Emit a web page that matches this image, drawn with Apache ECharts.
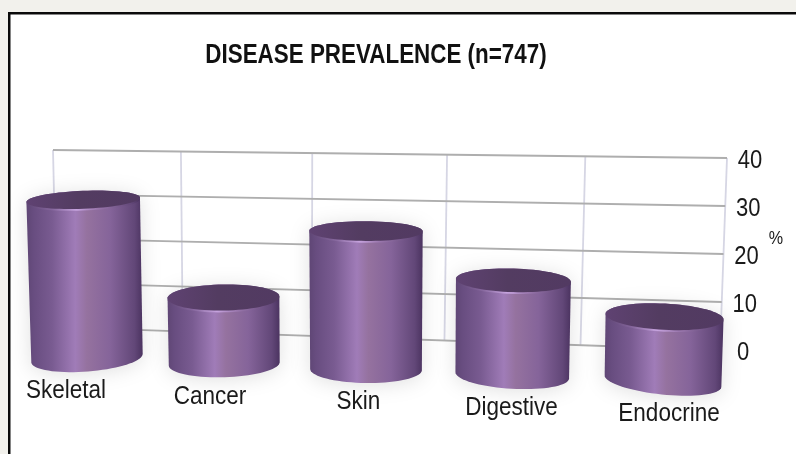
<!DOCTYPE html>
<html>
<head>
<meta charset="utf-8">
<style>
html,body{margin:0;padding:0;background:#f2f1ec;}
#c{width:796px;height:454px;filter:blur(0.4px);}
</style>
<script src="https://cdn.jsdelivr.net/npm/echarts@6/dist/echarts.min.js"></script>
</head>
<body>
<div id="c"></div>
<script>
var titleText = 'DISEASE PREVALENCE (n=747)';
var categories = ['Skeletal','Cancer','Skin','Digestive','Endocrine'];
var prevalence = [32, 13.4, 28, 19.2, 13];
var yTicks = [0,10,20,30,40];
var unitName = '%';
var FONT = '"Liberation Sans", Arial, sans-serif';
var TEXT_SX = 0.9;

var chart = echarts.init(document.getElementById('c'));
var LG = echarts.graphic.LinearGradient;

/* back wall perspective: grid coordinates -> picture */
function wall(px, py, cs, v){
  var t = (px - cs.x)/cs.width, s = v/40;
  var x = cs.x + cs.width*(0.935*t + 0.065*t*t) + s*(-4 + 11*t);
  var y = py - (1-t)*(8 + 14.8*(1-s));
  return [x,y];
}
function ell(cx,cy,rx,ry,rot,a){
  var r = rot*Math.PI/180, c=Math.cos(a)*rx, d=Math.sin(a)*ry;
  return [cx + c*Math.cos(r) - d*Math.sin(r), cy + c*Math.sin(r) + d*Math.cos(r)];
}
function ellipsePts(cx,cy,rx,ry,rot){
  var p=[]; for(var i=0;i<72;i++){p.push(ell(cx,cy,rx,ry,rot,i/72*2*Math.PI));} return p;
}

function renderH(params, api){
  var cs = params.coordSys, v = api.value(0);
  var py = api.coord([0,v])[1];
  var a = wall(cs.x, py, cs, v), b = wall(cs.x+cs.width, py, cs, v);
  return {type:'group',children:[
    {type:'line',shape:{x1:a[0],y1:a[1],x2:b[0],y2:b[1]},
     style:{stroke:'#aeaeae',lineWidth:1.8}},
    {type:'text',x:b[0]+23,y:b[1]+3,scaleX:0.88,
     style:{text:String(v),x:0,y:0,align:'center',verticalAlign:'middle',
            font:'25px '+FONT,fill:'#1a1a1a'}}
  ]};
}
function renderV(params, api){
  var cs = params.coordSys, i = api.value(0);
  var px = cs.x + cs.width*i/5;
  var a = wall(px, api.coord([0,0])[1], cs, 0), b = wall(px, api.coord([0,40])[1], cs, 40);
  return {type:'line',shape:{x1:a[0],y1:a[1],x2:b[0],y2:b[1]},
          style:{stroke:'#d6d6e4',lineWidth:1.8}};
}
function renderBar(params, api){
  var u = api.value(0), v = api.value(1);
  var py0 = api.coord([u,0])[1], py = api.coord([u,v])[1];
  var h = (py0-py)*1.03;
  var cx = 87 + 135*u + 2.25*u*u;
  var baseY = py0 + 8 + 5.75*u;
  var rx = 55.5 + 0.35*(u-1)*(u-1);
  var rxTop = rx + 0.03*v;
  var baseTilt = -4.5 + 2.6*u, topTilt = baseTilt/2;
  var topX = cx + h*(u-2)*0.012, topY = baseY - h;
  var ryTop = 16 - 0.22*v, ryBase = 13.5;
  var body = [], k;
  for(k=0;k<=36;k++){ body.push(ell(cx,baseY,rx,ryBase,baseTilt,Math.PI - k/36*Math.PI)); }
  for(k=0;k<=36;k++){ body.push(ell(topX,topY,rxTop,ryTop,topTilt,-k/36*Math.PI)); }
  var bodyFill = new LG(0,0,1,0,[
    {offset:0,color:'#5f4675'},{offset:0.06,color:'#684d80'},{offset:0.22,color:'#795b91'},
    {offset:0.42,color:'#a07cb8'},{offset:0.52,color:'#95729f'},{offset:0.72,color:'#85649a'},
    {offset:0.93,color:'#624778'},{offset:1,color:'#4b3360'}]);
  var rimFill = new LG(0,0,1,0,[
    {offset:0,color:'#5f4675'},{offset:0.22,color:'#84659b'},{offset:0.44,color:'#c6a3de'},
    {offset:0.62,color:'#9a77ad'},{offset:0.93,color:'#624778'},{offset:1,color:'#4b3360'}]);
  return {type:'group',children:[
    {type:'polygon',shape:{points:body},
     style:{fill:bodyFill,shadowColor:'rgba(60,60,60,0.16)',shadowBlur:20,shadowOffsetX:0,shadowOffsetY:2}},
    {type:'polygon',shape:{points:ellipsePts(topX,topY+1.8,rxTop-0.3,ryTop,topTilt)},style:{fill:rimFill}},
    {type:'polygon',shape:{points:ellipsePts(topX,topY,rxTop,ryTop,topTilt)},
     style:{fill:new LG(0,0,1,0,[{offset:0,color:'#5f4272'},{offset:0.45,color:'#533c61'},{offset:1,color:'#523a62'}])}},
    {type:'text',x:cx-21+6.75*u,y:baseY+33,scaleX:TEXT_SX,
     style:{text:categories[u],x:0,y:0,align:'center',verticalAlign:'middle',
            font:'25px '+FONT,fill:'#1a1a1a'}}
  ]};
}

chart.setOption({
  animation:false,
  graphic:[
    {type:'rect',z:-10,shape:{x:8,y:12,width:800,height:460},style:{fill:'#0a0a0a'}},
    {type:'rect',z:-9,shape:{x:10.5,y:14.5,width:800,height:460},style:{fill:'#ffffff'}},
    {type:'text',z:5,x:376,y:56,scaleX:0.83,
     style:{text:titleText,x:0,y:0,align:'center',verticalAlign:'middle',
            font:'bold 27px '+FONT,fill:'#111'}},
    {type:'text',z:5,x:776,y:239,scaleX:0.85,
     style:{text:unitName,x:0,y:0,align:'center',verticalAlign:'middle',font:'19px '+FONT,fill:'#1a1a1a'}}
  ],
  grid:{left:57,top:158,width:663,height:192,containLabel:false},
  xAxis:{type:'category',data:categories,show:false},
  yAxis:{type:'value',min:0,max:40,interval:10,show:false},
  series:[
    {type:'custom',name:'wallV',coordinateSystem:'cartesian2d',renderItem:renderV,z:1,silent:true,
     data:[0,1,2,3,4,5].map(function(i){return [i];}),encode:{x:[],y:[]}},
    {type:'custom',name:'wallH',coordinateSystem:'cartesian2d',renderItem:renderH,z:2,silent:true,
     data:yTicks.map(function(t){return [t];}),encode:{x:[],y:[]}},
    {type:'custom',name:'Prevalence',coordinateSystem:'cartesian2d',renderItem:renderBar,z:3,
     data:categories.map(function(c,i){return [i,prevalence[i]];}),encode:{x:0,y:1}}
  ]
});
</script>
</body>
</html>
